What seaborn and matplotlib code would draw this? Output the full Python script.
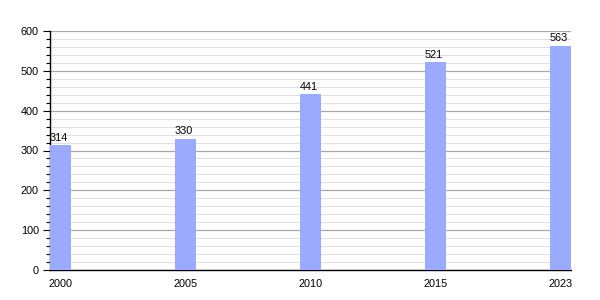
import matplotlib
matplotlib.use("Agg")
import matplotlib.pyplot as plt
import seaborn as sns
import pandas as pd
from matplotlib.ticker import MultipleLocator

years = ["2000", "2005", "2010", "2015", "2023"]
values = [314, 330, 441, 521, 563]

sns.set_style("white")
plt.rcParams['font.family'] = ['Liberation Sans', 'DejaVu Sans']
plt.rcParams['text.color'] = 'black'
plt.rcParams['xtick.color'] = 'black'
plt.rcParams['ytick.color'] = 'black'

df = pd.DataFrame({"year": years, "value": values})

fig = plt.figure(figsize=(6, 3), dpi=100)
ax = fig.add_axes([50/600, 30/300, 521/600, 239/300])

w = 0.168
sns.barplot(data=df, x="year", y="value", ax=ax, color="#99aaff",
            width=w, saturation=1, linewidth=0, edgecolor="none", zorder=3)

ax.set_xlim(-w/2, len(years) - 1 + w/2)
ax.set_ylim(0, 600)
ax.yaxis.set_major_locator(MultipleLocator(100))
ax.yaxis.set_minor_locator(MultipleLocator(20))
ax.grid(axis="y", which="major", color="#a8a8a8", linewidth=0.9, zorder=0)
ax.grid(axis="y", which="minor", color="#e0e0e0", linewidth=0.8, zorder=0)
ax.set_axisbelow(True)

for s in ["top", "right"]:
    ax.spines[s].set_visible(False)
for s in ["left", "bottom"]:
    ax.spines[s].set_color("black")
    ax.spines[s].set_linewidth(1.0)

ax.tick_params(axis="y", which="major", left=True, length=5, width=0.8,
               labelsize=7.8, pad=3, color="black", labelcolor="black")
ax.tick_params(axis="y", which="minor", left=True, length=3, width=0.8, color="black")
ax.tick_params(axis="x", which="both", bottom=False, labelsize=7.8, pad=3, labelcolor="black")
ax.set_xlabel("")
ax.set_ylabel("")

for p, v in zip(ax.patches, values):
    ax.text(p.get_x(), v + 6, str(v), ha="left", va="bottom", fontsize=7.8,
            color="black", zorder=4)

fig.savefig("out.png", dpi=100)
